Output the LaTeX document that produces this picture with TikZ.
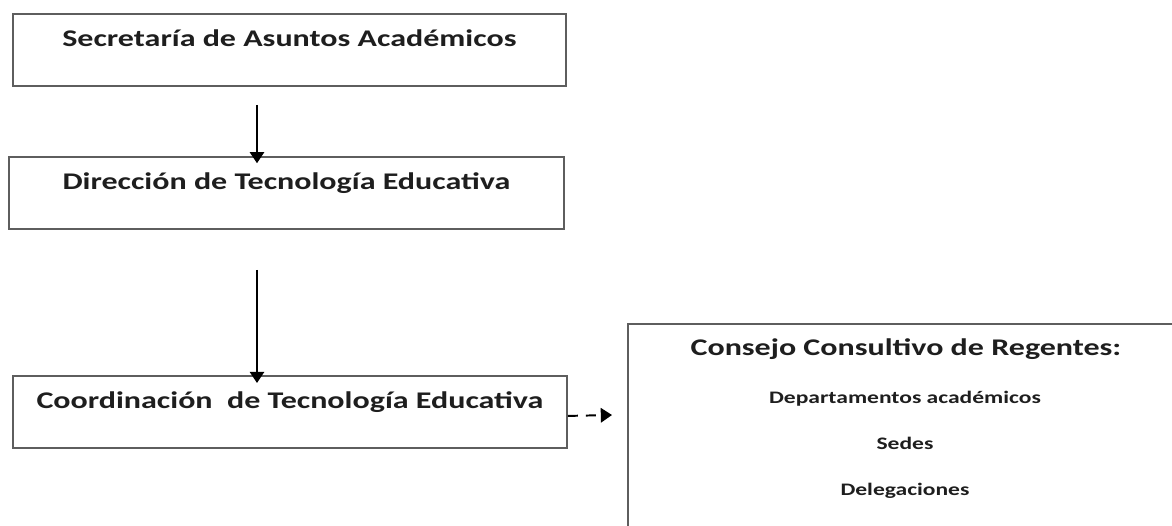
\documentclass[tikz,border=0pt]{standalone}
\usepackage{fontspec}
\setmainfont{Carlito}[FakeStretch=1.34]
\usetikzlibrary{arrows.meta,positioning,calc}
\definecolor{ink}{HTML}{1E1E1E}
\definecolor{frame}{HTML}{5E5E5E}
\newcommand{\orgbox}[4]{%
  \node[draw=frame,line width=1.3pt,fill=white,anchor=north west,
        minimum width=#3,inner ysep=0pt,text height=0.82cm,text depth=0.98cm,
        text=ink,font=\fontsize{17}{20}\selectfont\bfseries]
       (#1) at #2 {#4};}

\begin{document}
\begin{tikzpicture}
  \useasboundingbox (0,-13.125) rectangle (29.3,0);
  \clip (0,-13.125) rectangle (29.3,0);

  % Chain of units on the left
  \orgbox{secretaria}{(0.3,-0.325)}{13.825cm}{Secretaría de Asuntos Académicos}
  \orgbox{direccion}{(0.2,-3.9)}{13.875cm}{Dirección de Tecnología Educativa}
  \orgbox{coordinacion}{(0.3,-9.375)}{13.85cm}{Coordinación\ \ de Tecnología Educativa}

  % Advisory council, cut by the page edge
  \node[draw=frame,line width=1.3pt,fill=white,anchor=north west,
        minimum width=13.9cm,inner ysep=0pt,text height=0.78cm,text depth=5.2cm,
        text=ink,font=\fontsize{17}{20}\selectfont\bfseries]
       (consejo) at (15.675,-8.075) {Consejo Consultivo de Regentes:};
  \foreach \n/\t/\y in {deptos/Departamentos académicos/-10.09,
                        sedes/Sedes/-11.24, delegaciones/Delegaciones/-12.39}{
    \node[anchor=base,text=ink,font=\fontsize{12.5}{15}\selectfont\bfseries]
         (\n) at (22.625,\y) {\t};}

  \coordinate (axis) at (6.425,0);
  \coordinate (cctip) at (15.3,-10.375);

  \begin{scope}[-{Triangle[length=0.28cm,width=0.36cm]},black,line width=1.4pt]
    \draw[shorten <=0.45cm,shorten >=-0.18cm]
      (secretaria.south -| axis) -- (direccion.north -| axis);
    \draw[shorten <=1.0cm,shorten >=-0.2cm]
      (direccion.south -| axis) -- (coordinacion.north -| axis);
    \draw[dash pattern=on 0.25cm off 0.2cm]
      ([yshift=-0.1cm]coordinacion.east) -- (cctip);
  \end{scope}
\end{tikzpicture}
\end{document}
